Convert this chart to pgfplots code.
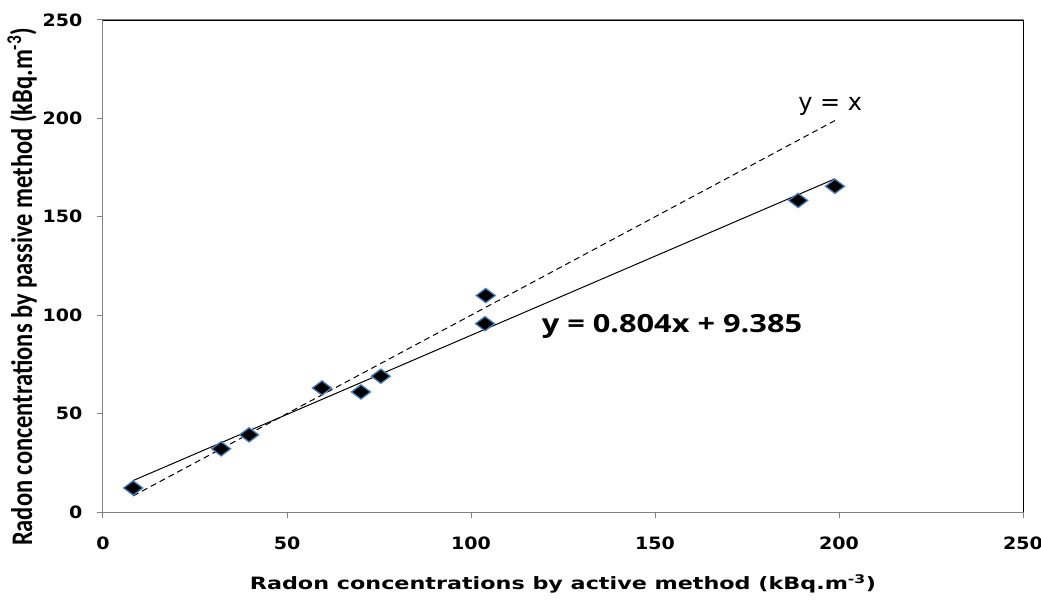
\documentclass[border=0pt]{standalone}
\usepackage{fontspec}
\setmainfont{DejaVu Sans}
\newfontfamily\tickfont{DejaVu Sans}[FakeStretch=1.12]
\newfontfamily\eqfont{Open Sans}
\newfontfamily\ylabfont{Carlito}
\usepackage{graphicx}
\usepackage{pgfplots}
\pgfplotsset{compat=1.18}
\definecolor{markblue}{HTML}{4A7EBB}
\begin{document}
\begin{tikzpicture}
\useasboundingbox (-103pt,-88pt) rectangle (938pt,512pt);
\begin{axis}[
  scale only axis, width=920pt, height=492pt,
  at={(0pt,0pt)}, anchor=south west,
  xmin=0, xmax=250, ymin=0, ymax=250,
  xtick={0,50,...,250}, ytick={0,50,...,250},
  tick align=outside, tick pos=left, major tick length=6pt,
  tick style={draw=gray, line width=1pt},
  axis line style={draw=gray, line width=1pt},
  /pgf/number format/assume math mode=true,
  tick label style={font=\tickfont\bfseries\fontsize{17}{20}\selectfont},
  yticklabel style={xshift=-11pt},
  xticklabel style={yshift=-15pt},
  xlabel={\scalebox{1.31}[1]{Radon concentrations by active method (kBq.m\textsuperscript{-3})}},
  xlabel style={font=\bfseries\fontsize{17}{20}\selectfont, at={(axis description cs:0.5,0)}, anchor=center, yshift=-72pt},
  ylabel={\scalebox{1}[1.22]{\ylabfont\bfseries\fontsize{24.5}{29}\selectfont Radon concentrations by passive method (kBq.m\textsuperscript{-3})}},
  ylabel style={at={(axis description cs:0,0.5)}, anchor=center, yshift=81pt, xshift=-21pt},
  clip=false,
]
\draw[black, line width=0.8pt] (rel axis cs:0,1) -- (rel axis cs:1,1) -- (rel axis cs:1,0);
\addplot[black, line width=1pt, dash pattern=on 6pt off 4pt] coordinates {(8.2,8.2) (198.9,198.9)};
\addplot[black, line width=1pt] coordinates {(8.2,15.98) (198.9,169.3)};
\addplot[only marks, mark=diamond*, mark size=9.5pt, mark options={rotate=90, fill=black, draw=markblue, line width=1.3pt}] coordinates {
(8.2,12.2) (32.1,32.1) (39.7,39.2) (59.5,63.0) (70.1,61.0) (75.5,69.0) (104.0,110.0) (103.8,95.7) (188.9,158.3) (198.9,165.5)
};
\node[font=\fontsize{24}{28}\selectfont] at (axis cs:197.6,206.0) {y = x};
\node[font=\eqfont\bfseries\fontsize{25}{30}\selectfont] at (axis cs:154.6,94.5) {\scalebox{1.23}[1]{y = 0.804x + 9.385}};
\end{axis}
\end{tikzpicture}
\end{document}
